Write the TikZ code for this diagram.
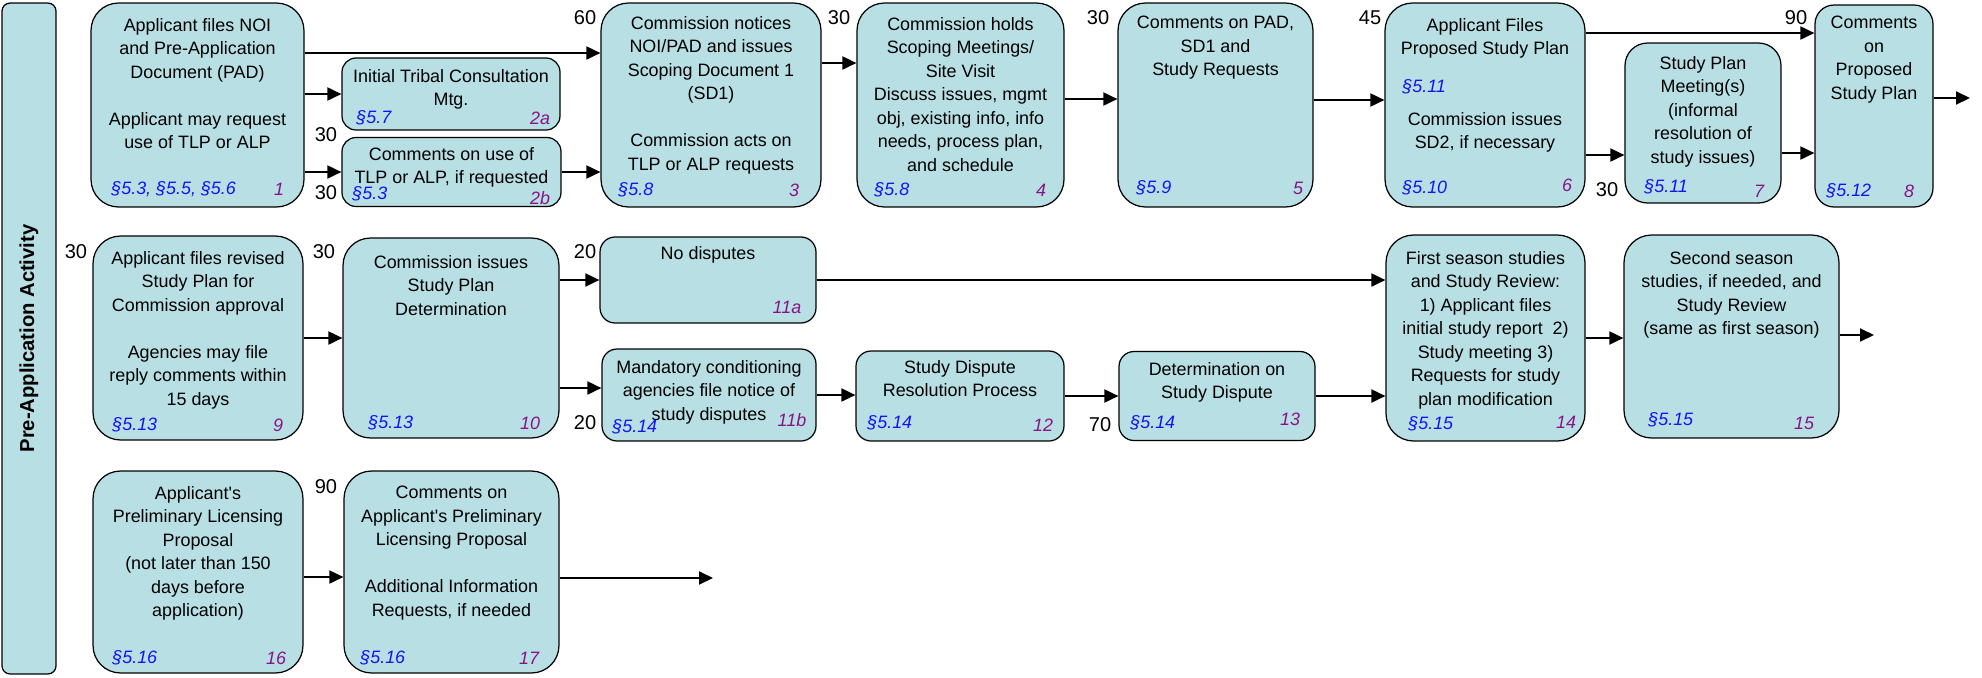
\documentclass[tikz,border=0pt]{standalone}
\usepackage{fontspec}
\setmainfont{Liberation Sans}
\usepackage{tikz}
\usetikzlibrary{calc}
\usetikzlibrary{shapes,arrows,arrows.meta}

\definecolor{boxfill}{RGB}{184,224,228}
\definecolor{secblue}{RGB}{20,20,240}
\definecolor{numpurple}{RGB}{135,20,135}

\begin{document}
\begin{tikzpicture}[x=0.02cm,y=-0.02cm]
	\tikzstyle{every node}=[font=\fontsize{10.2}{13.4}\selectfont]
	\tikzstyle{box}=[draw,line width=0.7pt,fill=boxfill,rounded corners=0.55cm,inner sep=0pt]
	\tikzstyle{small}=[rounded corners=0.28cm]
	\tikzstyle{txt}=[anchor=north,align=center,inner sep=0pt]
	\tikzstyle{sec}=[anchor=west,inner sep=0pt,text=secblue,font=\fontsize{10.2}{12}\selectfont\itshape]
	\tikzstyle{num}=[inner sep=0pt,text=numpurple,font=\fontsize{10.2}{12}\selectfont\itshape]
	\tikzstyle{days}=[inner sep=0pt,font=\fontsize{11.4}{12}\selectfont]
	\tikzstyle{arr}=[line width=1.1pt,-{Triangle[length=0.28cm,width=0.26cm]}]
	
	\useasboundingbox (0,0) rectangle (1982,677);
	
	% side bar
	\node[box,rounded corners=0.16cm,minimum width=1.08cm,minimum height=13.42cm] (side) at (29,338.5) {};
	\node[rotate=90,font=\fontsize{11.5}{12}\selectfont\bfseries] (sidet) at (side) {Pre-Application Activity};
	
	% first row
	\node[box,minimum width=4.26cm,minimum height=4.08cm] (b1) at (197.5,105) {};
	\node[txt] (b1t) at (197.5,17.8) {Applicant files NOI\\and Pre-Application\\Document (PAD)\\[13.4pt]Applicant may request\\use of TLP or ALP};
	\node[sec] (b1s) at (111,189) {§5.3, §5.5, §5.6};
	\node[num] (b1n) at (279,189) {1};
	
	\node[box,small,minimum width=4.36cm,minimum height=1.44cm] (b2a) at (451,94) {};
	\node[txt] (b2at) at (451,68.8) {Initial Tribal Consultation\\Mtg.};
	\node[sec] (b2as) at (356,118) {§5.7};
	\node[num] (b2an) at (540,118) {2a};
	
	\node[box,small,minimum width=4.38cm,minimum height=1.38cm] (b2b) at (451.5,172) {};
	\node[txt] (b2bt) at (451.5,146.8) {Comments on use of\\TLP or ALP, if requested};
	\node[sec] (b2bs) at (352,194) {§5.3};
	\node[num] (b2bn) at (540,198) {2b};
	
	\node[box,minimum width=4.40cm,minimum height=4.08cm] (b3) at (711,105) {};
	\node[txt] (b3t) at (711,15.8) {Commission notices\\NOI/PAD and issues\\Scoping Document 1\\(SD1)\\[13.4pt]Commission acts on\\TLP or ALP requests};
	\node[sec] (b3s) at (618,190) {§5.8};
	\node[num] (b3n) at (794,190) {3};
	
	\node[box,minimum width=4.14cm,minimum height=4.08cm] (b4) at (960.5,105) {};
	\node[txt] (b4t) at (960.5,16.8) {Commission holds\\Scoping Meetings/\\Site Visit\\Discuss issues, mgmt\\obj, existing info, info\\needs, process plan,\\and schedule};
	\node[sec] (b4s) at (874,190) {§5.8};
	\node[num] (b4n) at (1041,190) {4};
	
	\node[box,minimum width=3.90cm,minimum height=4.08cm] (b5) at (1215.5,105) {};
	\node[txt] (b5t) at (1215.5,15.8) {Comments on PAD,\\SD1 and\\Study Requests};
	\node[sec] (b5s) at (1136,188) {§5.9};
	\node[num] (b5n) at (1298,188) {5};
	
	\node[box,minimum width=4.00cm,minimum height=4.08cm] (b6) at (1485,105) {};
	\node[txt] (b6t) at (1485,17.8) {Applicant Files\\Proposed Study Plan};
	\node[sec] (b6r) at (1402,87) {§5.11};
	\node[txt] (b6u) at (1485,111.8) {Commission issues\\SD2, if necessary};
	\node[sec] (b6s) at (1402,188) {§5.10};
	\node[num] (b6n) at (1567,185) {6};
	
	\node[box,rounded corners=0.45cm,minimum width=3.12cm,minimum height=3.20cm] (b7) at (1703,123) {};
	\node[txt] (b7t) at (1703,55.8) {Study Plan\\Meeting(s)\\(informal\\resolution of\\study issues)};
	\node[sec] (b7s) at (1644,187) {§5.11};
	\node[num] (b7n) at (1759,191) {7};
	
	\node[box,rounded corners=0.38cm,minimum width=2.36cm,minimum height=4.04cm] (b8) at (1874,106) {};
	\node[txt] (b8t) at (1874,15.8) {Comments\\on\\Proposed\\Study Plan};
	\node[sec] (b8s) at (1826,191) {§5.12};
	\node[num] (b8n) at (1909,191) {8};
	
	% second row
	\node[box,minimum width=4.20cm,minimum height=4.08cm] (b9) at (198,338) {};
	\node[txt] (b9t) at (198,250.8) {Applicant files revised\\Study Plan for\\Commission approval\\[13.4pt]Agencies may file\\reply comments within\\15 days};
	\node[sec] (b9s) at (112,425) {§5.13};
	\node[num] (b9n) at (278,425) {9};
	
	\node[box,minimum width=4.32cm,minimum height=4.00cm] (b10) at (451,338) {};
	\node[txt] (b10t) at (451,254.8) {Commission issues\\Study Plan\\Determination};
	\node[sec] (b10s) at (368,423) {§5.13};
	\node[num] (b10n) at (530,423) {10};
	
	\node[box,rounded corners=0.3cm,minimum width=4.32cm,minimum height=1.72cm] (b11a) at (708,280) {};
	\node[txt] (b11at) at (708,245.8) {No disputes};
	\node[num] (b11an) at (787,307) {11a};
	
	\node[box,rounded corners=0.3cm,minimum width=4.28cm,minimum height=1.84cm] (b11b) at (709,395) {};
	\node[txt] (b11bt) at (709,359.8) {Mandatory conditioning\\agencies file notice of\\study disputes};
	\node[sec] (b11bs) at (612,427) {§5.14};
	\node[num] (b11bn) at (792,420) {11b};
	
	\node[box,rounded corners=0.3cm,minimum width=4.16cm,minimum height=1.80cm] (b12) at (960,396) {};
	\node[txt] (b12t) at (960,359.8) {Study Dispute\\Resolution Process};
	\node[sec] (b12s) at (867,423) {§5.14};
	\node[num] (b12n) at (1043,425) {12};
	
	\node[box,rounded corners=0.3cm,minimum width=3.92cm,minimum height=1.78cm] (b13) at (1217,396) {};
	\node[txt] (b13t) at (1217,361.8) {Determination on\\Study Dispute};
	\node[sec] (b13s) at (1130,423) {§5.14};
	\node[num] (b13n) at (1290,419) {13};
	
	\node[box,minimum width=3.98cm,minimum height=4.12cm] (b14) at (1485.5,338) {};
	\node[txt] (b14t) at (1485.5,250.8) {First season studies\\and Study Review:\\1) Applicant files\\initial study report~~2)\\Study meeting 3)\\Requests for study\\plan modification};
	\node[sec] (b14s) at (1408,424) {§5.15};
	\node[num] (b14n) at (1566,422) {14};
	
	\node[box,minimum width=4.30cm,minimum height=4.06cm] (b15) at (1731.5,336.5) {};
	\node[txt] (b15t) at (1731.5,250.8) {Second season\\studies, if needed, and\\Study Review\\(same as first season)};
	\node[sec] (b15s) at (1648,420) {§5.15};
	\node[num] (b15n) at (1804,423) {15};
	
	% third row
	\node[box,minimum width=4.20cm,minimum height=4.04cm] (b16) at (198,572) {};
	\node[txt] (b16t) at (198,485.8) {Applicant\textquotesingle s\\Preliminary Licensing\\Proposal\\(not later than 150\\days before\\application)};
	\node[sec] (b16s) at (112,658) {§5.16};
	\node[num] (b16n) at (276,658) {16};
	
	\node[box,minimum width=4.30cm,minimum height=4.04cm] (b17) at (451.5,572) {};
	\node[txt] (b17t) at (451.5,485.8) {Comments on\\Applicant\textquotesingle s Preliminary\\Licensing Proposal\\[13.4pt]Additional Information\\Requests, if needed};
	\node[sec] (b17s) at (360,658) {§5.16};
	\node[num] (b17n) at (529,658) {17};
	
	% days
	\node[days] (d1) at (585,18) {60};
	\node[days] (d2) at (326,135) {30};
	\node[days] (d3) at (326,193) {30};
	\node[days] (d4) at (839,18) {30};
	\node[days] (d5) at (1098,18) {30};
	\node[days] (d6) at (1370,18) {45};
	\node[days] (d7) at (1796,18) {90};
	\node[days] (d8) at (1607,190) {30};
	\node[days] (d9) at (76,252) {30};
	\node[days] (d10) at (324,252) {30};
	\node[days] (d11) at (585,252) {20};
	\node[days] (d12) at (585,423) {20};
	\node[days] (d13) at (1100,425) {70};
	\node[days] (d14) at (326,487) {90};
	
	% arrows
	\draw[arr] ($(b1.east)+(0,-52)$) -- ($(b3.west)+(0,-52)$);
	\draw[arr] (b1.east |- b2a.west) -- (b2a.west);
	\draw[arr] (b1.east |- b2b.west) -- (b2b.west);
	\draw[arr] (b2b.east) -- (b3.west |- b2b.east);
	\draw[arr] ($(b3.east)+(0,-42)$) -- ($(b4.west)+(0,-42)$);
	\draw[arr] ($(b4.east)+(0,-6)$) -- ($(b5.west)+(0,-6)$);
	\draw[arr] ($(b5.east)+(0,-5)$) -- ($(b6.west)+(0,-5)$);
	\draw[arr] ($(b6.east)+(0,-72)$) -- ($(b8.west)+(0,-73)$);
	\draw[arr] ($(b6.east)+(0,50)$) -- ($(b7.west)+(0,32)$);
	\draw[arr] ($(b7.east)+(0,30)$) -- ($(b8.west)+(0,47)$);
	\coordinate (e8) at (1970,98);
	\draw[arr] (b8.east |- e8) -- (e8);
	
	\draw[arr] (b9.east) -- (b10.west |- b9.east);
	\draw[arr] (b10.east |- b11a.west) -- (b11a.west);
	\draw[arr] ($(b10.east |- b11b.west)+(0,-7)$) -- ($(b11b.west)+(0,-7)$);
	\draw[arr] (b11a.east) -- (b14.west |- b11a.east);
	\draw[arr] (b11b.east) -- (b12.west |- b11b.east);
	\draw[arr] (b12.east) -- (b13.west |- b12.east);
	\draw[arr] (b13.east) -- (b14.west |- b13.east);
	\draw[arr] (b14.east) -- (b15.west |- b14.east);
	\coordinate (e15) at (1874,335);
	\draw[arr] (b15.east |- e15) -- (e15);
	
	\draw[arr] ($(b16.east)+(0,5)$) -- ($(b17.west)+(0,5)$);
	\coordinate (e17) at (713,578);
	\draw[arr] (b17.east |- e17) -- (e17);
	
\end{tikzpicture}
\end{document}
